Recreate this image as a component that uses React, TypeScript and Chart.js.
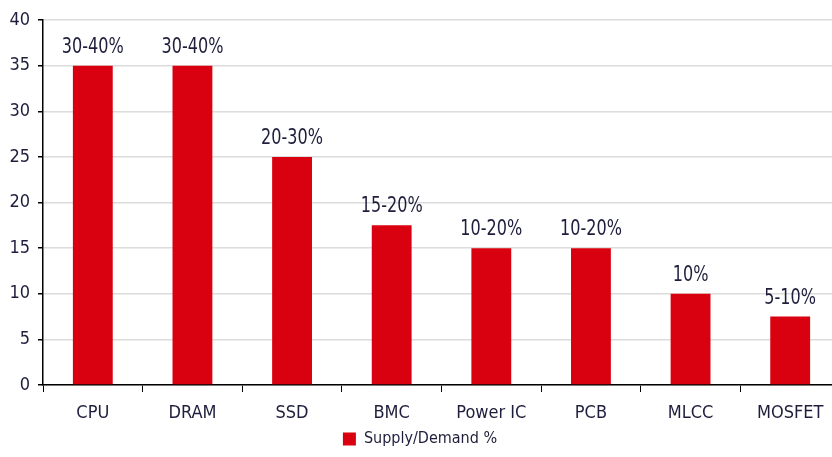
import React, { useEffect, useRef } from "react";
import { Chart, registerables } from "chart.js";

Chart.register(...registerables);

const categories = ["CPU", "DRAM", "SSD", "BMC", "Power IC", "PCB", "MLCC", "MOSFET"];
const values = [35, 35, 25, 17.5, 15, 15, 10, 7.5];
const rangeLabels = ["30-40%", "30-40%", "20-30%", "15-20%", "10-20%", "10-20%", "10%", "5-10%"];
const seriesName = "Supply/Demand %";

const FONT = "'Liberation Sans Narrow', 'Arial Narrow', 'DejaVu Sans Condensed', sans-serif";
const TEXT = "#1e1e3c";
const RED = "#d9000f";

const labelPlugin = {
  id: "rangeLabels",
  afterDatasetsDraw(chart: any) {
    const ctx = chart.ctx;
    const meta = chart.getDatasetMeta(0);
    const sx = 0.85;
    ctx.save();
    ctx.font = `21px ${FONT}`;
    ctx.fillStyle = TEXT;
    ctx.textAlign = "center";
    ctx.textBaseline = "alphabetic";
    meta.data.forEach((bar: any, i: number) => {
      ctx.save();
      ctx.translate(bar.x, bar.y - 13);
      ctx.scale(sx, 1);
      ctx.fillText(rangeLabels[i], 0, 0);
      ctx.restore();
    });
    ctx.restore();
  },
};

export default function App() {
  const ref = useRef<HTMLCanvasElement | null>(null);
  useEffect(() => {
    if (!ref.current) return;
    const chart = new Chart(ref.current, {
      type: "bar",
      data: {
        labels: categories,
        datasets: [
          {
            label: seriesName,
            data: values,
            backgroundColor: RED,
            borderWidth: 0,
            barPercentage: 0.4,
            categoryPercentage: 1,
          },
        ],
      },
      options: {
        animation: false,
        responsive: false,
        maintainAspectRatio: false,
        layout: { padding: { top: 20, right: 0, left: 0, bottom: 0 } },
        plugins: {
          tooltip: { enabled: false },
          legend: {
            position: "bottom",
            labels: {
              boxWidth: 13,
              boxHeight: 13,
              color: TEXT,
              font: { family: FONT, size: 16 },
              padding: 3,
            },
          },
        },
        scales: {
          x: {
            grid: {
              drawOnChartArea: false,
              drawTicks: true,
              tickLength: 7,
              tickColor: "#000",
              offset: true,
            },
            border: { color: "#000", width: 1.5 },
            ticks: {
              color: TEXT,
              font: { family: FONT, size: 18 },
              padding: 11,
              maxRotation: 0,
            },
            afterFit: (s: any) => {
              s.height = 43;
            },
          },
          y: {
            min: 0,
            max: 40,
            ticks: {
              stepSize: 5,
              color: TEXT,
              font: { family: FONT, size: 18 },
              padding: 8,
            },
            grid: {
              color: "#dcdcdc",
              lineWidth: 1.5,
              tickLength: 5,
              tickColor: "#000",
            },
            border: { color: "#000", width: 1.5 },
            afterFit: (s: any) => {
              s.width = 43;
            },
          },
        },
      },
      plugins: [labelPlugin],
    });
    return () => chart.destroy();
  }, []);
  return (
    <div
      style={{
        position: "fixed",
        left: 0,
        top: 0,
        width: 832,
        height: 457,
        overflow: "hidden",
        background: "#fff",
      }}
    >
      <canvas ref={ref} width={840} height={457} style={{ display: "block" }} />
    </div>
  );
}
